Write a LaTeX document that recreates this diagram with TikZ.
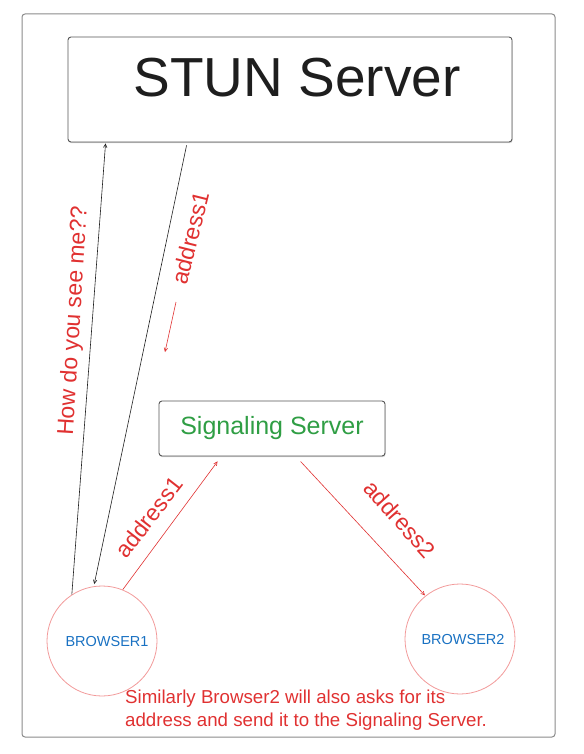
\documentclass[tikz,border=0pt]{standalone}
\usepackage{fontspec}
\newfontfamily\hand{Liberation Sans}
\usetikzlibrary{arrows.meta,shadows}
\definecolor{exred}{HTML}{E03131}
\definecolor{exgreen}{HTML}{2F9E44}
\definecolor{exblue}{HTML}{1971C2}
\definecolor{exink}{HTML}{1E1E1E}
\definecolor{exframe}{HTML}{8A8A8A}
\definecolor{excircle}{HTML}{F29A9A}
\tikzset{
  serverbox/.style={draw=exink!75, line width=0.9pt, rounded corners=3pt, fill=white,
    drop shadow={shadow xshift=0.6pt, shadow yshift=-1.2pt, opacity=0.35}},
  browsernode/.style={circle, draw=excircle, line width=0.8pt, minimum size=110pt, inner sep=0pt,
    text=exblue, font=\hand\fontsize{14.5}{16}\selectfont},
  blackarrow/.style={draw=exink, line width=0.6pt, -{Straight Barb[length=3.5pt,width=3.5pt]}},
  redarrow/.style={draw=exred, line width=0.6pt, -{Straight Barb[length=3.5pt,width=3.5pt]}},
  redlabel/.style={text=exred, inner sep=0pt, font=\hand\fontsize{23}{25}\selectfont},
}
\begin{document}
\begin{tikzpicture}[x=1pt,y=-1pt]
\useasboundingbox (0,0) rectangle (583,754);
% outer frame
\draw[draw=exframe, line width=1pt, rounded corners=3pt] (22,14) rectangle (555,737);
% STUN server
\node[serverbox, minimum width=444pt, minimum height=105pt, inner sep=0pt] (stun) at (290,89.5) {};
\node[inner sep=0pt, font=\hand\fontsize{55}{60}\selectfont, text=exink] (stuntext) at (297,78) {STUN Server};
% Signaling server
\node[serverbox, minimum width=226pt, minimum height=55pt, inner sep=0pt, text=exgreen,
  font=\hand\fontsize{25}{28}\selectfont] (sig) at (272,428.5) {Signaling Server};
% Browsers
\node[browsernode] (b1) at (102,641) {};
\node[text=exblue, inner sep=0pt, font=\hand\fontsize{14.5}{16}\selectfont] (b1text) at (107,642) {BROWSER1};
\node[browsernode] (b2) at (460,639) {};
\node[text=exblue, inner sep=0pt, font=\hand\fontsize{14.5}{16}\selectfont] (b2text) at (463,640) {BROWSER2};
% connectors
\coordinate (stunA) at ([xshift=38pt,yshift=-1pt]stun.south west);
\coordinate (stunB) at ([xshift=119pt,yshift=-3pt]stun.south west);
\coordinate (sigA) at ([xshift=59pt,yshift=-5pt]sig.south west);
\coordinate (sigB) at ([xshift=142pt,yshift=-5pt]sig.south west);
\draw[blackarrow] (b1.123) -- (stunA);
\draw[blackarrow] (stunB) -- ([shift={(-1pt,2pt)}]b1.97);
\draw[redarrow] (b1.68) -- (sigA);
\draw[redarrow] (sigB) -- ([shift={(-1pt,0pt)}]b2.128);
% labels
\node[redlabel, rotate=86.5] (lhow) at (74,321) {How do you see me??};
\node[redlabel, rotate=76] (lstun) at (190,238) {address1};
\coordinate (smallA) at (176,302);
\coordinate (smallB) at (165,352);
\draw[redarrow] (smallA) -- (smallB);
\node[redlabel, rotate=52] (lad1) at (149,517) {address1};
\node[redlabel, rotate=-48] (lad2) at (400,519) {address2};
% note
\node[text=exred, inner sep=0pt, anchor=north west, align=left,
  font=\hand\fontsize{18.7}{22.5}\selectfont] (note) at (125,690)
  {Similarly Browser2 will also asks for its\\address and send it to the Signaling Server.};
\end{tikzpicture}
\end{document}
